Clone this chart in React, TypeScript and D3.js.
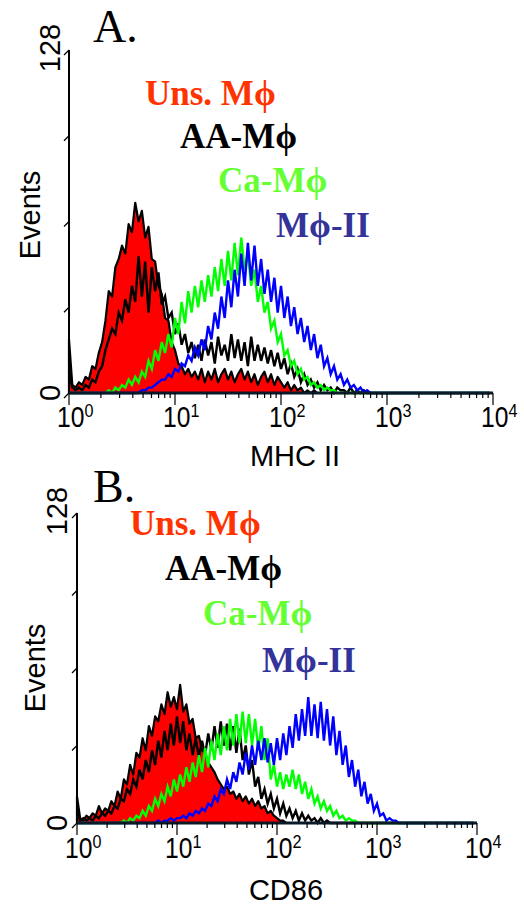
import React from 'react';
import * as d3 from 'd3';

// 128 log channels over 4 decades (32 per decade)
const CHANNELS = 128;

const seriesNames = ['Uns. Mϕ', 'AA-Mϕ', 'Ca-Mϕ', 'Mϕ-II'];
const legendColours = ['#ff3300', '#000000', '#66ff33', '#333399'];
const yTickValues = [0, 32, 64, 96, 128];
const yTickLabels = ['0', '128'];
const decades = [0, 1, 2, 3, 4];

// A. MHC II  (counts per channel)
const mhcUns = [20,3,2,4,3,6,5,10,9,15,19,27,38,36,47,50,55,52,63,60,71,64,68,58,62,50,49,40,37,28,27,19,16,11,10,7,9,6,8,5,9,4,8,5,9,4,7,9,5,8,4,7,9,5,8,4,7,3,6,8,4,7,3,6,4,2,4,1,3,1,2,0,1,0,1,0];
const mhcAA = [8,2,1,2,1,3,2,5,4,8,10,16,20,24,22,30,27,35,30,40,34,51,36,49,30,47,38,45,33,36,28,30,22,26,18,22,15,19,13,18,12,20,14,19,11,21,14,18,12,22,13,20,12,19,10,21,12,18,12,17,11,16,10,15,9,13,7,11,6,9,4,7,3,5,2,4,1,3,1,2,0,2,1,1,0,2,0,1,0,1];
const mhcCa = [0,0,0,0,0,0,0,0,0,0,0,0,1,0,2,1,3,2,5,3,6,4,8,6,12,9,16,12,19,15,22,17,28,22,34,26,38,30,40,32,42,34,44,36,47,38,50,40,53,42,56,44,58,46,52,40,46,34,40,30,34,24,27,19,22,14,16,10,12,7,9,5,6,3,4,2,3,1,2,1,1,0];
const mhcII = [0,0,0,0,0,0,0,0,0,0,0,0,0,0,0,0,0,0,0,0,0,0,1,1,2,2,3,4,5,5,7,6,9,8,11,10,14,12,17,14,20,16,25,20,30,24,36,28,42,32,46,36,52,40,56,42,55,40,50,37,46,34,43,30,40,28,36,25,32,22,28,19,25,16,22,13,18,10,13,7,10,5,7,3,5,2,3,1,2,0,1,0];

// B. CD86  (counts per channel)
const cdUns = [11,2,1,3,2,4,3,7,4,6,5,9,7,13,10,18,16,24,20,29,27,35,30,40,36,44,42,49,45,54,48,52,47,57,46,49,41,43,35,36,30,29,25,23,21,18,16,14,15,12,13,10,12,9,11,8,10,7,9,6,7,4,5,3,2,1,1,0];
const cdAA = [6,1,2,1,2,1,3,2,4,3,5,4,7,6,10,9,14,12,18,15,22,18,26,21,30,24,34,27,38,30,41,32,44,33,42,30,37,28,35,27,34,28,37,30,40,31,42,32,41,30,40,29,39,26,32,20,26,15,19,10,14,8,12,6,10,4,8,3,6,2,5,1,4,1,3,1,2,0,2,0,1,0];
const cdCa = [0,0,0,0,0,0,0,0,0,0,0,0,0,0,0,1,0,2,1,3,2,5,3,7,5,10,7,12,9,15,11,18,13,20,15,23,17,25,19,28,21,31,23,34,26,37,28,40,30,43,32,45,33,46,33,45,32,43,30,40,26,35,18,24,15,21,14,20,15,22,14,20,12,17,10,14,8,11,6,9,5,7,3,5,2,3,1,2,1,1,0];
const cdII = [0,0,0,0,0,0,0,0,0,0,0,0,0,0,0,0,0,0,0,0,0,0,0,0,0,0,1,0,1,1,2,1,2,2,3,2,4,3,5,4,6,5,8,7,11,9,14,12,18,14,21,17,25,20,29,22,32,24,34,26,35,25,33,24,35,26,37,28,40,31,45,34,47,36,52,36,49,35,50,34,47,32,44,28,38,24,32,19,26,15,22,11,17,8,12,5,8,3,4,1,2,1,1,0];

const SANS = '"Liberation Sans", Arial, Helvetica, sans-serif';
const SERIF = '"Liberation Serif", "Times New Roman", serif';

const panels = [
  {
    title: 'A.', xLabel: 'MHC II',
    data: [mhcUns, mhcAA, mhcCa, mhcII],
    x0: 69, x1: 493, yTop: 50, yBase: 393,
    titleX: 93, titleY: 42,
    yLabelX: 60, eventsX: 40, eventsY: 215,
    tickLabelY: 427, xLabelX: 295, xLabelY: 466,
    legendX: [145, 180, 218, 276], legendY: [105, 148, 192, 237],
  },
  {
    title: 'B.', xLabel: 'CD86',
    data: [cdUns, cdAA, cdCa, cdII],
    x0: 77, x1: 477, yTop: 513, yBase: 823,
    titleX: 93, titleY: 502,
    yLabelX: 67, eventsX: 45, eventsY: 668,
    tickLabelY: 858, xLabelX: 286, xLabelY: 900,
    legendX: [130, 165, 203, 262], legendY: [535, 580, 625, 672],
  },
];

const Panel = ({ p }: any) => {
  const x = d3.scaleLog().domain([1, 1e4]).range([p.x0, p.x1]);
  const y = d3.scaleLinear().domain([0, 128]).range([p.yBase, p.yTop]);
  const cx = (i: number) => x(Math.pow(10, (4 * i) / CHANNELS));
  const pts = (arr: number[]) => d3.range(CHANNELS).map(i => [i, arr[i] ?? 0] as [number, number]);

  const line = d3.line<[number, number]>().x(d => cx(d[0])).y(d => y(d[1]));
  const area = d3.area<[number, number]>().x(d => cx(d[0])).y0(y(0)).y1(d => y(d[1]));

  const [uns, aa, ca, ii] = p.data;
  const ticks = x.ticks();

  return (
    <g>
      <text x={p.titleX} y={p.titleY} fontFamily={SERIF} fontSize={46}>{p.title}</text>

      {/* histograms */}
      <path d={area(pts(uns)) || ''} fill="#ff0000" stroke="#000" strokeWidth={2.2} strokeLinejoin="round" />
      <path d={line(pts(aa)) || ''} fill="none" stroke="#000" strokeWidth={2.4} />
      <path d={line(pts(ca)) || ''} fill="none" stroke="#00ff00" strokeWidth={2.4} />
      <path d={line(pts(ii)) || ''} fill="none" stroke="#0000ff" strokeWidth={2.4} />

      {/* axes */}
      <line x1={p.x0} x2={p.x0} y1={p.yTop} y2={p.yBase} stroke="#000" strokeWidth={2} />
      {yTickValues.map(v => (
        <line key={v} x1={p.x0 - 5} y1={y(v) + 5} x2={p.x0} y2={y(v)} stroke="#000" strokeWidth={1.2} />
      ))}
      <line x1={p.x0} x2={p.x1} y1={p.yBase} y2={p.yBase} stroke="#0a1a28" strokeWidth={3} />
      {ticks.map((t, i) => {
        const major = Math.abs(Math.log10(t) - Math.round(Math.log10(t))) < 1e-9;
        return (
          <line key={i} x1={x(t)} x2={x(t)} y1={p.yBase} y2={p.yBase + (major ? 12 : 5)} stroke="#000" strokeWidth={1.2} />
        );
      })}

      {/* x tick labels */}
      {decades.map(d => (
        <g key={d} transform={`translate(${x(Math.pow(10, d)) - 12},${p.tickLabelY}) scale(0.85,1)`}>
          <text x={0} y={0} fontFamily={SANS} fontSize={29}>
            10<tspan dy={-10} fontSize={19}>{d}</tspan>
          </text>
        </g>
      ))}
      <text x={p.xLabelX} y={p.xLabelY} textAnchor="middle" fontFamily={SANS} fontSize={29}>{p.xLabel}</text>

      {/* y labels */}
      <text transform={`translate(${p.yLabelX},${y(0)}) rotate(-90)`} textAnchor="middle" fontFamily={SANS} fontSize={29}>{yTickLabels[0]}</text>
      <text transform={`translate(${p.yLabelX},${y(128) - 2}) rotate(-90)`} textAnchor="middle" fontFamily={SANS} fontSize={29}>{yTickLabels[1]}</text>
      <text transform={`translate(${p.eventsX},${p.eventsY}) rotate(-90)`} textAnchor="middle" fontFamily={SANS} fontSize={29}>Events</text>

      {/* legend */}
      {seriesNames.map((n, i) => (
        <text key={n} x={p.legendX[i]} y={p.legendY[i]} fontFamily={SERIF} fontWeight="bold" fontSize={35} fill={legendColours[i]}>{n}</text>
      ))}
    </g>
  );
};

export default function App() {
  return (
    <div style={{ position: 'absolute', left: 0, top: 0 }}>
      <svg width={524} height={910} style={{ display: 'block', background: '#fff' }}>
        {panels.map(p => <Panel key={p.title} p={p} />)}
      </svg>
    </div>
  );
}
